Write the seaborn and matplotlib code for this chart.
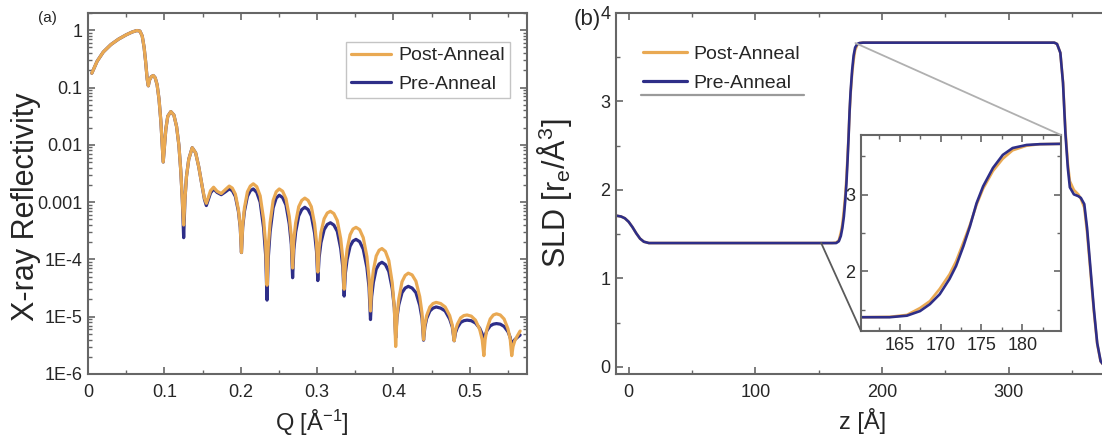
import matplotlib
matplotlib.use('Agg')
import matplotlib.pyplot as plt
import numpy as np
import pandas as pd
import seaborn as sns
from matplotlib.lines import Line2D
from matplotlib.patches import ConnectionPatch
from matplotlib.ticker import FixedLocator, FixedFormatter, LogLocator, MultipleLocator, NullFormatter

# ---------------- data ----------------
# (a) X-ray reflectivity, stored as log10(R)
Q = [0.005, 0.012, 0.020, 0.030, 0.040, 0.050, 0.058, 0.064, 0.068, 0.071,
     0.0735, 0.0755, 0.0775, 0.079, 0.0805, 0.083, 0.0855, 0.088, 0.0905, 0.093,
     0.0955, 0.0975, 0.0985, 0.100, 0.102, 0.1045, 0.1085, 0.1125, 0.116, 0.119,
     0.1215, 0.1235, 0.1253, 0.127, 0.129, 0.132, 0.1365, 0.141, 0.145, 0.1495,
     0.1525, 0.155, 0.1575, 0.1605, 0.1645, 0.169, 0.1745, 0.180, 0.185,
     0.189, 0.193, 0.197, 0.1994, 0.201,
     0.2026, 0.2049, 0.2088, 0.2126, 0.2165,
     0.221, 0.2255, 0.230, 0.2327, 0.2345,
     0.2361, 0.2385, 0.2425, 0.2465, 0.2505,
     0.2549, 0.2593, 0.2636, 0.2663, 0.268,
     0.2696, 0.272, 0.276, 0.280, 0.284,
     0.2883, 0.2925, 0.2968, 0.2993, 0.301,
     0.3027, 0.3051, 0.3093, 0.3134, 0.3175,
     0.322, 0.3265, 0.331, 0.3337, 0.3355,
     0.3371, 0.3394, 0.3433, 0.3471, 0.351,
     0.3558, 0.3605, 0.3653, 0.3681, 0.370,
     0.3715, 0.3738, 0.3775, 0.3813, 0.385,
     0.3895, 0.394, 0.3985, 0.4012, 0.403,
     0.4047, 0.4071, 0.4113, 0.4154, 0.4195,
     0.4245, 0.4295, 0.4345, 0.4375, 0.4395,
     0.4412, 0.4436, 0.4478, 0.4519, 0.456,
     0.4619, 0.4678, 0.4737, 0.4772, 0.4796,
     0.4813, 0.4838, 0.4881, 0.4923, 0.4965,
     0.502, 0.5075, 0.513, 0.5163, 0.5185,
     0.5202, 0.5226, 0.5268, 0.5309, 0.535,
     0.540, 0.545, 0.550, 0.553, 0.555,
     0.5567, 0.559, 0.5625, 0.566]

LOG_R_POST = [-0.75, -0.54, -0.38, -0.25, -0.155, -0.08, -0.03, -0.005, -0.015, -0.10,
              -0.30, -0.55, -0.85, -0.97, -0.87, -0.81, -0.79, -0.83, -0.95, -1.20,
              -1.60, -2.05, -2.30, -2.05, -1.72, -1.50, -1.42, -1.48, -1.68, -2.00,
              -2.45, -2.95, -3.40, -2.95, -2.55, -2.25, -2.05, -2.14, -2.38, -2.72,
              -2.93, -3.02, -2.92, -2.80, -2.74, -2.81, -2.85, -2.78, -2.72,
              -2.755, -2.86, -3.13, -3.42, -3.88,
              -3.40, -3.10, -2.82, -2.72, -2.68,
              -2.73, -2.89, -3.30, -3.74, -4.45,
              -3.78, -3.36, -2.97, -2.82, -2.77,
              -2.81, -2.94, -3.25, -3.60, -4.15,
              -3.66, -3.36, -3.08, -2.97, -2.93,
              -2.97, -3.08, -3.38, -3.70, -4.22,
              -3.80, -3.53, -3.29, -3.19, -3.16,
              -3.20, -3.32, -3.64, -3.98, -4.52,
              -4.09, -3.82, -3.57, -3.47, -3.44,
              -3.48, -3.62, -3.95, -4.32, -4.90,
              -4.46, -4.19, -3.94, -3.84, -3.81,
              -3.86, -4.02, -4.41, -4.84, -5.52,
              -4.99, -4.69, -4.39, -4.28, -4.24,
              -4.27, -4.38, -4.65, -4.94, -5.40,
              -5.14, -4.98, -4.83, -4.77, -4.75,
              -4.77, -4.83, -4.98, -5.15, -5.42,
              -5.24, -5.13, -5.02, -4.98, -4.97,
              -4.99, -5.06, -5.22, -5.40, -5.68,
              -5.39, -5.21, -5.04, -4.97, -4.95,
              -4.97, -5.04, -5.21, -5.39, -5.68,
              -5.52, -5.42, -5.33, -5.25]

LOG_R_PRE = [-0.75, -0.54, -0.38, -0.25, -0.155, -0.08, -0.03, -0.005, -0.015, -0.10,
             -0.30, -0.55, -0.85, -0.97, -0.87, -0.81, -0.79, -0.83, -0.95, -1.20,
             -1.60, -2.05, -2.30, -2.05, -1.72, -1.50, -1.42, -1.48, -1.68, -2.00,
             -2.45, -2.95, -3.62, -2.95, -2.55, -2.25, -2.05, -2.14, -2.38, -2.72,
             -2.95, -3.06, -2.96, -2.84, -2.77, -2.83, -2.87, -2.82, -2.77,
             -2.80, -2.90, -3.16, -3.44, -3.88,
             -3.44, -3.16, -2.90, -2.80, -2.77,
             -2.83, -3.00, -3.45, -3.93, -4.71,
             -3.98, -3.52, -3.10, -2.93, -2.88,
             -2.92, -3.05, -3.38, -3.74, -4.32,
             -3.83, -3.52, -3.24, -3.13, -3.09,
             -3.13, -3.24, -3.54, -3.86, -4.37,
             -3.97, -3.71, -3.48, -3.39, -3.36,
             -3.40, -3.51, -3.81, -4.13, -4.64,
             -4.24, -4.00, -3.77, -3.68, -3.65,
             -3.69, -3.82, -4.14, -4.49, -5.05,
             -4.65, -4.40, -4.17, -4.08, -4.05,
             -4.09, -4.21, -4.51, -4.84, -5.37,
             -5.01, -4.79, -4.58, -4.50, -4.47,
             -4.50, -4.58, -4.80, -5.03, -5.41,
             -5.18, -5.03, -4.90, -4.85, -4.83,
             -4.85, -4.90, -5.04, -5.18, -5.42,
             -5.28, -5.19, -5.10, -5.07, -5.06,
             -5.07, -5.11, -5.20, -5.30, -5.46,
             -5.32, -5.24, -5.16, -5.13, -5.12,
             -5.13, -5.17, -5.26, -5.36, -5.52,
             -5.44, -5.40, -5.36, -5.32]

R_TICKS = [1, 0.1, 0.01, 0.001, 1e-4, 1e-5, 1e-6]
R_TICK_LABELS = ['1', '0.1', '0.01', '0.001', '1E-4', '1E-5', '1E-6']

# (b) scattering length density profile
Z = [-10, -6, -3, 0, 3, 6, 9, 12, 16, 20, 60, 100, 140,
     160.6, 163.8, 165.9, 167.5, 168.7, 169.9, 171.1, 171.9, 172.8, 173.6,
     174.4, 175.2, 176.4, 177.6, 178.8, 180.5, 182.1,
     185, 200, 250, 300,
     336, 338.2, 340.8, 342.9, 344.8, 346.7, 348.3, 351.5, 355, 357, 359.7,
     361.9, 364.6, 367.3, 369.9, 372.6,
     375, 380, 390, 400]

SLD_POST = [1.71, 1.70, 1.68, 1.64, 1.58, 1.51, 1.45, 1.415, 1.40, 1.40, 1.40, 1.40, 1.40,
            1.40, 1.405, 1.43, 1.52, 1.61, 1.77, 1.96, 2.13, 2.38, 2.61,
            2.87, 3.08, 3.31, 3.47, 3.58, 3.64, 3.66,
            3.665, 3.665, 3.665, 3.665,
            3.665, 3.65, 3.55, 3.22, 2.68, 2.30, 2.10, 2.00, 1.95, 1.90, 1.80,
            1.52, 1.07, 0.62, 0.26, 0.06,
            0.02, 0.0, 0.0, 0.0]

SLD_PRE = [1.71, 1.70, 1.68, 1.64, 1.58, 1.51, 1.45, 1.415, 1.40, 1.40, 1.40, 1.40, 1.40,
           1.40, 1.40, 1.42, 1.48, 1.57, 1.70, 1.90, 2.07, 2.33, 2.59,
           2.89, 3.11, 3.35, 3.52, 3.61, 3.65, 3.66,
           3.665, 3.665, 3.665, 3.665,
           3.665, 3.65, 3.55, 3.21, 2.64, 2.25, 2.03, 1.95, 1.93, 1.91, 1.84,
           1.57, 1.11, 0.65, 0.27, 0.065,
           0.02, 0.0, 0.0, 0.0]

# where the zoom lines leave the main profile
ZOOM_LOW = (152, 1.40)
ZOOM_HIGH = (179, 3.66)

POST_COLOR = '#E9A953'
PRE_COLOR = '#2E2E88'
SPINE_COLOR = '#666666'
TEXT_COLOR = '#262626'

sns.set_theme(style='ticks')
plt.rcParams['font.family'] = ['Liberation Sans', 'DejaVu Sans']
plt.rcParams['mathtext.fontset'] = 'custom'
plt.rcParams['mathtext.rm'] = 'Liberation Sans'
plt.rcParams['mathtext.it'] = 'Liberation Sans:italic'
plt.rcParams['mathtext.default'] = 'regular'

refl = pd.DataFrame({'Q': Q * 2,
                     'R': np.power(10.0, LOG_R_PRE + LOG_R_POST),
                     'sample': ['Pre-Anneal'] * len(Q) + ['Post-Anneal'] * len(Q)})
sld = pd.DataFrame({'z': Z * 2,
                    'SLD': SLD_POST + SLD_PRE,
                    'sample': ['Post-Anneal'] * len(Z) + ['Pre-Anneal'] * len(Z)})
colors = {'Post-Anneal': POST_COLOR, 'Pre-Anneal': PRE_COLOR}

fig = plt.figure(figsize=(11.02, 4.44), dpi=100)
ax1 = fig.add_axes([88 / 1102, 1 - 374 / 444, 439 / 1102, 361 / 444])
ax2 = fig.add_axes([616 / 1102, 1 - 374 / 444, 494 / 1102, 361 / 444])


def style_axes(ax, labelsize=13):
    for sp in ax.spines.values():
        sp.set_color(SPINE_COLOR)
        sp.set_linewidth(1.5)
    ax.tick_params(which='both', direction='in', top=True, right=True,
                   color=SPINE_COLOR, labelcolor=TEXT_COLOR, labelsize=labelsize)
    ax.tick_params(which='major', length=5, width=1.2)
    ax.tick_params(which='minor', length=3, width=1.0)


# ---- (a) reflectivity ----
for name in ['Pre-Anneal', 'Post-Anneal']:
    sns.lineplot(data=refl[refl['sample'] == name], x='Q', y='R', color=colors[name],
                 estimator=None, sort=False, lw=2.3, ax=ax1, legend=False)
ax1.set_yscale('log')
ax1.set_xlim(0, 0.575)
ax1.set_ylim(1e-6, 2)
ax1.xaxis.set_major_locator(MultipleLocator(0.1))
ax1.xaxis.set_minor_locator(MultipleLocator(0.05))
ax1.xaxis.set_major_formatter(plt.FuncFormatter(lambda v, p: '0' if abs(v) < 1e-9 else f'{v:.1f}'))
ax1.yaxis.set_major_locator(FixedLocator(R_TICKS))
ax1.yaxis.set_major_formatter(FixedFormatter(R_TICK_LABELS))
ax1.yaxis.set_minor_locator(LogLocator(base=10, subs=np.arange(2, 10)))
ax1.yaxis.set_minor_formatter(NullFormatter())
style_axes(ax1)
ax1.tick_params(axis='y', pad=4)
ax1.tick_params(axis='x', pad=7)
ax1.set_xlabel('Q [Å$^{-1}$]', fontsize=17, color=TEXT_COLOR)
ax1.set_ylabel('X-ray Reflectivity', fontsize=22, color=TEXT_COLOR)
ax1.yaxis.set_label_coords(-0.108, 0.463)
ax1.xaxis.set_label_coords(0.51, -0.095)
ax1.legend(handles=[Line2D([], [], color=POST_COLOR, lw=2.3, label='Post-Anneal'),
                    Line2D([], [], color=PRE_COLOR, lw=2.3, label='Pre-Anneal')],
           loc='upper right', bbox_to_anchor=(0.961, 0.92), borderaxespad=0,
           fontsize=14, frameon=True, fancybox=False, edgecolor='#c4c4c4',
           framealpha=1, handlelength=2.05, handletextpad=0.4, labelspacing=0.55,
           borderpad=0.25)

# ---- (b) SLD profile ----
for name in ['Post-Anneal', 'Pre-Anneal']:
    sns.lineplot(data=sld[sld['sample'] == name], x='z', y='SLD', color=colors[name],
                 estimator=None, sort=False, lw=1.9, ax=ax2, legend=False)
ax2.set_xlim(-10, 380)
ax2.set_ylim(-0.08, 4)
ax2.xaxis.set_major_locator(MultipleLocator(100))
ax2.xaxis.set_minor_locator(MultipleLocator(50))
ax2.yaxis.set_major_locator(MultipleLocator(1))
ax2.yaxis.set_minor_locator(MultipleLocator(0.5))
style_axes(ax2)
ax2.tick_params(axis='y', pad=4)
ax2.tick_params(axis='x', pad=7)
ax2.set_xlabel('z [Å]', fontsize=17, color=TEXT_COLOR)
ax2.set_ylabel('SLD [r$_e$/Å$^3$]', fontsize=22, color=TEXT_COLOR)
ax2.yaxis.set_label_coords(-0.085, 0.5)
ax2.xaxis.set_label_coords(0.5, -0.095)
leg2 = ax2.legend(handles=[Line2D([], [], color=POST_COLOR, lw=2.3, label='Post-Anneal'),
                           Line2D([], [], color=PRE_COLOR, lw=2.3, label='Pre-Anneal')],
                  loc='upper left', bbox_to_anchor=(0.05, 0.915), borderaxespad=0,
                  fontsize=14, frameon=False, handlelength=2.3, handletextpad=0.3,
                  labelspacing=0.55, borderpad=0.1)

# inset zoom on the rising edge
axins = fig.add_axes([861 / 1102, 1 - 331 / 444, 200 / 1102, 196 / 444])
for name in ['Post-Anneal', 'Pre-Anneal']:
    sns.lineplot(data=sld[sld['sample'] == name], x='z', y='SLD', color=colors[name],
                 estimator=None, sort=False, lw=1.9, ax=axins, legend=False)
axins.set_xlim(160.3, 184.7)
axins.set_ylim(1.22, 3.78)
axins.xaxis.set_major_locator(FixedLocator([165, 170, 175, 180]))
axins.xaxis.set_minor_locator(MultipleLocator(2.5))
axins.yaxis.set_major_locator(FixedLocator([2, 3]))
axins.yaxis.set_minor_locator(MultipleLocator(0.5))
axins.set_xlabel('')
axins.set_ylabel('')
style_axes(axins, labelsize=13)
axins.tick_params(axis='both', pad=4)
axins.set_facecolor('white')

for xyA, xyB, col in [((0, 0), ZOOM_LOW, '#5a5a5a'), ((1, 1), ZOOM_HIGH, '#b0b0b0')]:
    cp = ConnectionPatch(xyA=xyA, coordsA=axins.transAxes, xyB=xyB, coordsB=ax2.transData,
                         color=col, lw=1.3)
    fig.add_artist(cp)

fig.text(47 / 1102, 1 - 18 / 444, '(a)', fontsize=11, ha='center', va='center', color=TEXT_COLOR)
fig.text(587 / 1102, 1 - 19 / 444, '(b)', fontsize=16, ha='center', va='center', color=TEXT_COLOR)

# grey rule under the (b) legend, as in the original
fig.canvas.draw()
bb = leg2.get_window_extent()
inv = fig.transFigure.inverted()
(x0, y0), (x1, _) = inv.transform([(bb.x0, bb.y0 - 2), (bb.x1 + 2, bb.y0)])
fig.add_artist(Line2D([x0, x1], [y0, y0], color='#9a9a9a', lw=1.6))

fig.savefig('out.png', dpi=100)
